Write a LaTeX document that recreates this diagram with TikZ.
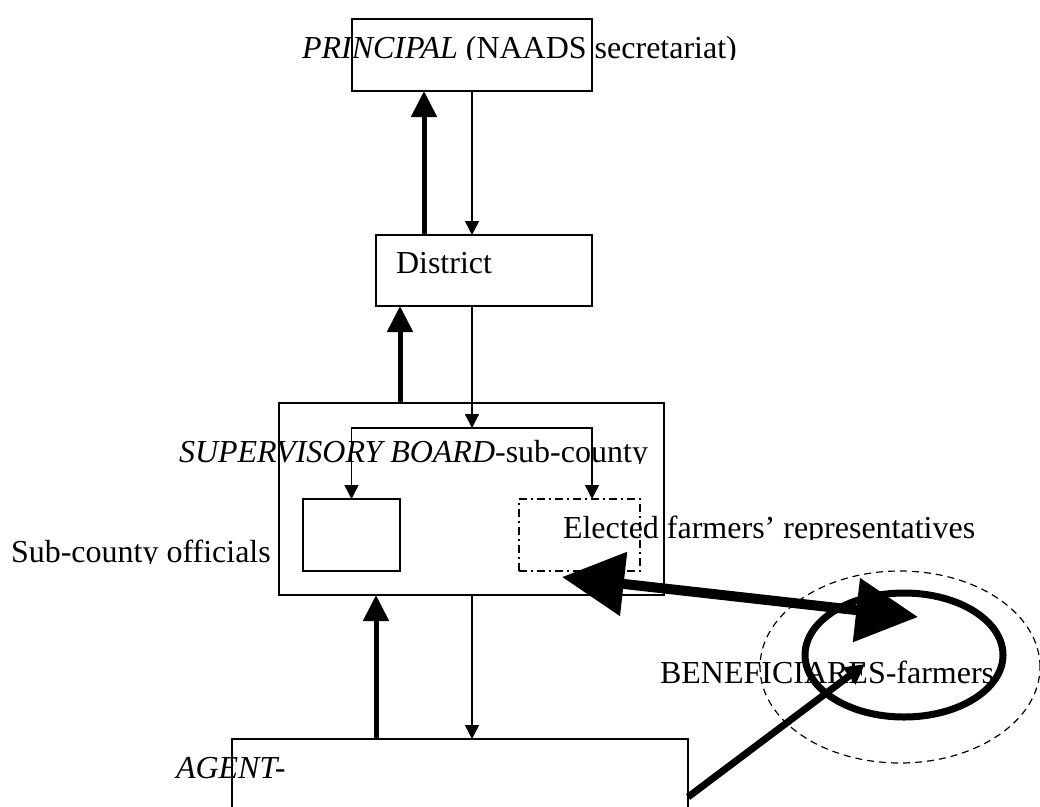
\documentclass[tikz,border=0pt]{standalone}
\usepackage{fontspec}
\setmainfont{Liberation Serif}
\usetikzlibrary{arrows.meta,shapes.geometric}
\begin{document}
\begin{tikzpicture}[x=1pt,y=-1pt,
  box/.style={draw, line width=1.5pt, inner sep=0pt, outer sep=0pt},
  lbl/.style={anchor=base west, inner sep=0pt, outer sep=0pt, font=\fontsize{32}{36}\selectfont},
  thinarrow/.style={line width=1.5pt, -{Triangle[length=14pt,width=14pt]}},
  thickarrow/.style={line width=5pt, -{Triangle[length=26pt,width=25pt]}},
  bigarrow/.style={line width=10pt, {Triangle[length=62pt,width=62pt]}-{Triangle[length=62pt,width=62pt]}},
  agarrow/.style={line width=7pt, -{Triangle[length=20pt,width=20pt]}},
  dashdotbox/.style={draw, line width=1.5pt, dash pattern=on 8pt off 4pt on 2pt off 4pt, inner sep=0pt, outer sep=0pt},
]
\clip (0,0) rectangle (1040,806);
\fill[white] (0,0) rectangle (1040,806);

% boxes
\node[box, minimum width=240, minimum height=72] (principal) at (472,55) {};
\node[box, minimum width=216, minimum height=71] (district) at (484,270.5) {};
\node[box, minimum width=385, minimum height=192] (super) at (471.5,499) {};
\node[box, minimum width=97, minimum height=72] (sco) at (351.5,535) {};
\node[dashdotbox, minimum width=121, minimum height=72] (efr) at (579.5,535) {};
\node[box, minimum width=456, minimum height=120] (agent) at (460,799) {};

% ellipses
\node[ellipse, draw, dashed, dash pattern=on 7pt off 5pt, line width=1.2pt, minimum width=280, minimum height=192, inner sep=0pt] (outer) at (900,667) {};
\node[ellipse, draw, line width=7pt, minimum width=198, minimum height=124, inner sep=0pt] (inner) at (904,655) {};

% texts
\begin{scope}
  \clip (280,15) rectangle (760,59.5);
  \node[lbl] (tprincipal) at (302,58) {\itshape PRINCIPAL\upshape{} (NAADS secretariat)};
\end{scope}
\node[lbl] (tdistrict) at (396,273) {District};
\begin{scope}
  \clip (150,420) rectangle (700,463.5);
  \node[lbl, anchor=base east] (tsuper) at (648,462) {\itshape SUPERVISORY BOARD\upshape -sub-county};
\end{scope}
\begin{scope}
  \clip (0,520) rectangle (300,563.5);
  \node[lbl] (tsco) at (11,562) {Sub-county officials};
\end{scope}
\begin{scope}
  \clip (540,500) rectangle (1000,539.5);
  \node[lbl] (tefr) at (563,538) {Elected farmers’ representatives};
\end{scope}
\node[lbl] (tbene) at (660,683) {BENEFICIARES-farmers};
\node[lbl] (tagent) at (176,778) {\itshape AGENT-};

% connectors
\draw[thickarrow] ([xshift=-60]district.north) -- ([xshift=-48]principal.south);
\draw[thinarrow] (principal.south) -- ([xshift=-12]district.north);
\draw[thickarrow] ([xshift=-71.5]super.north) -- ([xshift=-84]district.south);
\coordinate (br) at (472,428);
\draw[thinarrow] ([xshift=-12]district.south) -- (br);
\draw[thinarrow] (br) -| (sco.north);
\draw[thinarrow] (br) -| ([xshift=12.5]efr.north);
\draw[thickarrow] ([xshift=-84]agent.north) -- ([xshift=-95.5]super.south);
\draw[thinarrow] ([xshift=0.5]super.south) -- ([xshift=12]agent.north);

\coordinate (dl) at (562,577);
\coordinate (dr) at (918,617);
\draw[bigarrow] (dl) -- (dr);

\coordinate (ag) at (688,797);
\coordinate (at) at (865,664);
\draw[agarrow] (ag) -- (at);
\end{tikzpicture}
\end{document}
